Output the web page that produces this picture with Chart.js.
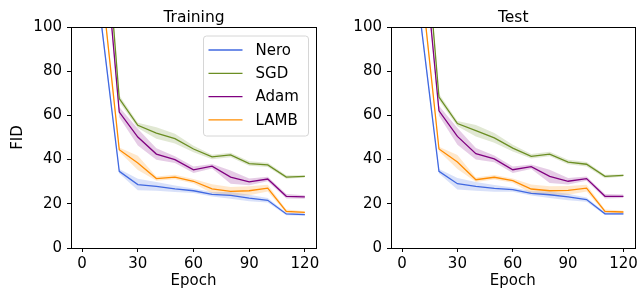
<!DOCTYPE html>
<html>
<head>
<meta charset="utf-8">
<script src="https://cdn.jsdelivr.net/npm/chart.js@4.4.1/dist/chart.umd.min.js"></script>
<style>
    html, body { margin: 0; padding: 0; background: #fff; }
    #wrap { position: relative; width: 641px; height: 291px; overflow: hidden; }
    canvas { position: absolute; top: 0; }
</style>
</head>
<body>
<div id="wrap">
    <canvas id="trainChart" width="330" height="291" style="left:0"></canvas>
    <canvas id="testChart" width="321" height="291" style="left:320px"></canvas>
</div>
<script>
const epochs = [10, 20, 30, 40, 50, 60, 70, 80, 90, 100, 110, 120];
const xTicks = [0, 30, 60, 90, 120];
const seriesNames = ["Nero", "SGD", "Adam", "LAMB"];

// mean FID per epoch
const neroTrain = [104, 34.7, 28.7, 27.9, 26.8, 25.9, 24.3, 23.8, 22.6, 21.6, 15.4, 15.1];
const sgdTrain = [174, 67.6, 55.5, 52.0, 49.5, 44.8, 41.2, 42.1, 38.2, 37.6, 32.1, 32.4];
const adamTrain = [157, 61.5, 50.2, 42.5, 40.0, 35.4, 37.0, 32.1, 29.9, 31.2, 23.4, 23.1];
const lambTrain = [123, 44.5, 38.5, 31.4, 32.1, 30.2, 26.8, 25.6, 25.9, 27.1, 16.6, 16.1];

const neroTest = [103, 34.7, 29.1, 27.9, 27.0, 26.4, 24.7, 24.1, 23.1, 21.9, 15.5, 15.4];
const sgdTest = [168, 68.3, 56.3, 53.1, 49.8, 45.2, 41.5, 42.5, 38.9, 37.9, 32.4, 32.9];
const adamTest = [150, 62.1, 50.5, 42.7, 40.3, 35.4, 36.8, 32.4, 30.2, 31.4, 23.4, 23.4];
const lambTest = [123, 44.8, 38.9, 30.9, 32.0, 30.5, 26.7, 25.9, 26.1, 27.1, 16.6, 16.3];

// half width of the shaded band
const neroSpread = [2, 1, 2.6, 2, 1.5, 1, 1, 1.5, 1.5, 1, 0.6, 0.5];
const sgdSpread = [2, 1.5, 1.2, 2.6, 2.2, 1.5, 1, 1, 1, 1, 0.8, 0.5];
const adamSpread = [2, 2.3, 3.8, 2.6, 1.5, 1.5, 1, 3, 1.5, 1, 1, 0.8];
const lambSpread = [2, 1, 3.2, 1, 1, 1, 2, 2, 2, 1.5, 0.8, 0.5];

const COLORS = ["#4169e1", "#6b8e23", "#800080", "#ff8c00"];
const BANDS = ["rgba(65,105,225,0.2)", "rgba(107,142,35,0.2)", "rgba(128,0,128,0.2)", "rgba(255,140,0,0.2)"];
const FONT = "'DejaVu Sans', sans-serif";

function points(values) {
    return epochs.map((e, i) => ({ x: e, y: values[i] }));
}

function buildDatasets(means) {
    const spreads = [neroSpread, sgdSpread, adamSpread, lambSpread];
    const sets = [];
    means.forEach((values, s) => {
        sets.push({
            label: seriesNames[s],
            data: points(values),
            borderColor: COLORS[s],
            borderWidth: 1.3,
            pointRadius: 0,
            fill: false,
        });
    });
    means.forEach((values, s) => {
        const hi = values.map((v, i) => v + spreads[s][i]);
        const lo = values.map((v, i) => v - spreads[s][i]);
        sets.push({ label: "", data: points(hi), borderWidth: 0, pointRadius: 0, fill: false });
        sets.push({ label: "", data: points(lo), borderWidth: 0, pointRadius: 0, fill: "-1", backgroundColor: BANDS[s] });
    });
    return sets;
}

// box round the plot plus the title centred over it
const frame = {
    id: "frame",
    afterDatasetsDraw(chart, args, opts) {
        const { ctx, chartArea: a } = chart;
        ctx.save();
        ctx.strokeStyle = "#000";
        ctx.lineWidth = 1;
        ctx.strokeRect(Math.round(a.left) + 0.5, Math.round(a.top) + 0.5,
            Math.round(a.width), Math.round(a.height));
        ctx.fillStyle = "#000";
        ctx.font = "15.5px " + FONT;
        ctx.textAlign = "center";
        ctx.textBaseline = "alphabetic";
        ctx.fillText(opts.text, (a.left + a.right) / 2 + 0.5, 21.5);
        ctx.restore();
    },
};

const legendBox = {
    id: "legendBox",
    afterDraw(chart) {
        const { ctx, chartArea: a } = chart;
        const w = 105, h = 100;
        const x = a.right - w - 8, y = a.top + 8.5;
        ctx.save();
        ctx.fillStyle = "rgba(255,255,255,0.8)";
        ctx.strokeStyle = "#d6d6d6";
        ctx.lineWidth = 1;
        ctx.beginPath();
        ctx.roundRect(x + 0.5, y + 0.5, w, h, 3);
        ctx.fill();
        ctx.stroke();
        ctx.font = "15px " + FONT;
        ctx.textBaseline = "middle";
        ctx.fillStyle = "#000";
        seriesNames.forEach((name, i) => {
            const ry = y + 14.5 + i * 23.3;
            ctx.strokeStyle = COLORS[i];
            ctx.lineWidth = 1.3;
            ctx.beginPath();
            ctx.moveTo(x + 5.5, ry);
            ctx.lineTo(x + 39.5, ry);
            ctx.stroke();
            ctx.fillText(name, x + 52.5, ry + 1);
        });
        ctx.restore();
    },
};

function createChart(canvasId, title, means, showYTitle, rightPad, plugins) {
    return new Chart(document.getElementById(canvasId), {
        type: "line",
        data: { datasets: buildDatasets(means) },
        plugins: plugins,
        options: {
            responsive: false,
            animation: false,
            devicePixelRatio: 1,
            layout: { padding: { left: 0, right: rightPad, top: 27, bottom: 0 } },
            plugins: {
                legend: { display: false },
                tooltip: { enabled: false },
                title: { display: false },
                frame: { text: title },
            },
            scales: {
                x: {
                    type: "linear",
                    min: -6,
                    max: 126,
                    afterBuildTicks: (s) => { s.ticks = xTicks.map((v) => ({ value: v })); },
                    afterFit: (s) => { s.height = 43; },
                    ticks: { color: "#000", font: { family: FONT, size: 15 }, padding: 3, maxRotation: 0 },
                    grid: { drawOnChartArea: false, drawTicks: true, tickLength: 4, color: "#000" },
                    border: { display: false },
                    title: {
                        display: true,
                        text: "Epoch",
                        color: "#000",
                        font: { family: FONT, size: 15 },
                        padding: { top: 0, bottom: 1 },
                    },
                },
                y: {
                    min: 0,
                    max: 100,
                    afterFit: (s) => { s.width = 71; },
                    ticks: { stepSize: 20, color: "#000", font: { family: FONT, size: 15 }, padding: 5 },
                    grid: { drawOnChartArea: false, drawTicks: true, tickLength: 4, color: "#000" },
                    border: { display: false },
                    title: {
                        display: showYTitle,
                        text: "FID",
                        color: "#000",
                        font: { family: FONT, size: 15 },
                        padding: { top: 9, bottom: 0 },
                    },
                },
            },
        },
    });
}

createChart("trainChart", "Training", [neroTrain, sgdTrain, adamTrain, lambTrain], true, 14, [frame, legendBox]);
createChart("testChart", "Test", [neroTest, sgdTest, adamTest, lambTest], false, 5, [frame]);
</script>
</body>
</html>
